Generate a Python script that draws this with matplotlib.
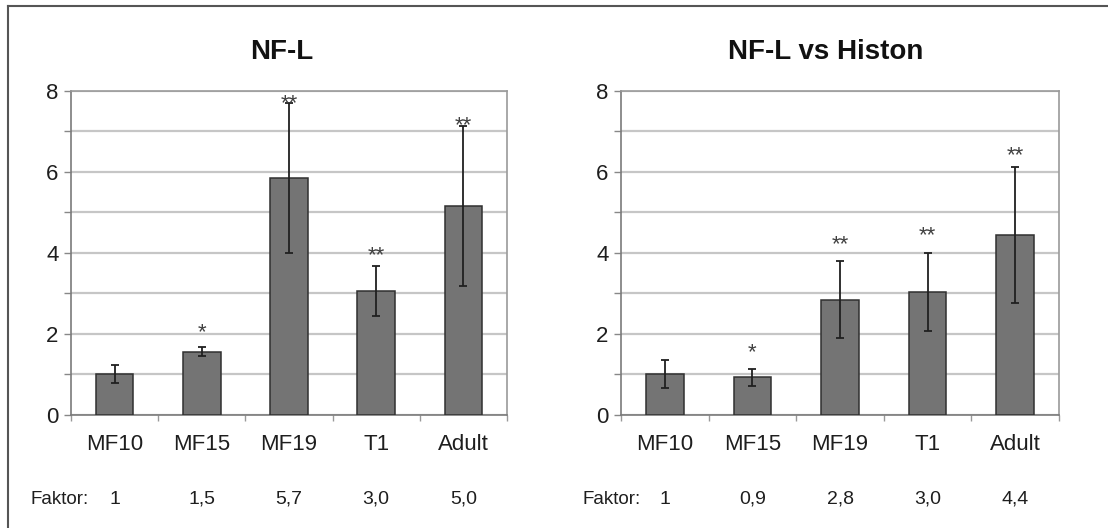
import numpy as np
import matplotlib
matplotlib.use("Agg")
import matplotlib.pyplot as plt
from matplotlib.lines import Line2D

plt.rcParams['font.family'] = ['Liberation Sans', 'DejaVu Sans']

#categories and read-off values
categories=["MF10","MF15","MF19","T1","Adult"]

nfl_mean=[1.01,1.56,5.84,3.06,5.16]
nfl_err=[0.23,0.11,1.85,0.62,1.97]
nfl_stars=["","*","**","**","**"]
nfl_star_y=[0,2.2,7.85,4.1,7.3]
nfl_faktor=["1","1,5","5,7","3,0","5,0"]

hist_mean=[1.01,0.93,2.84,3.03,4.44]
hist_err=[0.35,0.21,0.95,0.96,1.68]
hist_stars=["","*","**","**","**"]
hist_star_y=[0,1.71,4.37,4.6,6.57]
hist_faktor=["1","0,9","2,8","3,0","4,4"]

titles=["NF-L","NF-L vs Histon"]

#styling
barcolor="#747474"
textcolor="#1e1e1e"
gridcolor="#c6c6c6"

W,H=1108,528
fig=plt.figure(figsize=(W/100,H/100),dpi=100)

#axes boxes in pixels (left,right)
boxes=[(71,507),(621,1059)]
top_px,bottom_px=90.7,415
title_x=[282,826]
faktor_x=[30,582]

def drawPanel(ax,mean,err,stars,star_y,faktor):
    x=np.arange(len(categories))
    ax.bar(x,mean,width=0.43,color=barcolor,edgecolor="#303030",linewidth=1.1,zorder=3)
    ax.errorbar(x,mean,yerr=err,fmt="none",ecolor="#202020",elinewidth=1.3,capsize=3,capthick=1.3,zorder=4)
    for i in range(len(x)):
        if stars[i]:
            ax.annotate(stars[i],(x[i],star_y[i]),xytext=(0,-9),textcoords="offset points",
                        ha="center",va="baseline",fontsize=16,color="#404040",zorder=5)
    ax.set_xlim(-0.5,len(x)-0.5)
    ax.set_ylim(0,8)
    ax.set_yticks([0,2,4,6,8])
    ax.set_yticks([1,3,5,7],minor=True)
    ax.set_xticks(x)
    ax.set_xticklabels(categories)
    ax.set_xticks(np.arange(-0.5,len(x),1.0),minor=True)
    ax.tick_params(axis="x",which="major",length=0,pad=14,labelsize=16,labelcolor=textcolor)
    ax.tick_params(axis="x",which="minor",length=4,width=1,color="#999999",direction="out")
    ax.tick_params(axis="y",which="both",length=5,width=1,color="#888888",direction="out")
    ax.tick_params(axis="y",which="major",labelsize=16,labelcolor=textcolor,pad=4)
    ax.yaxis.grid(True,which="both",color=gridcolor,linewidth=1.6,zorder=0)
    ax.set_axisbelow(True)
    for s in ["left","bottom"]:
        ax.spines[s].set_color("#7a7a7a")
        ax.spines[s].set_linewidth(1.2)
    for s in ["top","right"]:
        ax.spines[s].set_color("#9a9a9a")
        ax.spines[s].set_linewidth(1.2)
    trans=matplotlib.transforms.blended_transform_factory(ax.transData,fig.transFigure)
    for i in range(len(x)):
        ax.text(x[i],1-499/H,faktor[i],transform=trans,ha="center",va="center",fontsize=14,color=textcolor)

data=[(nfl_mean,nfl_err,nfl_stars,nfl_star_y,nfl_faktor),
      (hist_mean,hist_err,hist_stars,hist_star_y,hist_faktor)]

for k in range(2):
    l,r=boxes[k]
    ax=fig.add_axes([l/W,1-bottom_px/H,(r-l)/W,(bottom_px-top_px)/H])
    drawPanel(ax,*data[k])
    fig.text(title_x[k]/W,1-52/H,titles[k],ha="center",va="center",fontsize=20,fontweight="bold",color="#111111")
    fig.text(faktor_x[k]/W,1-499/H,"Faktor:",ha="left",va="center",fontsize=13.5,color=textcolor)

#outer frame (top and left edge only visible)
fig.add_artist(Line2D([8/W,1],[1-6/H,1-6/H],transform=fig.transFigure,color="#555555",linewidth=1.5))
fig.add_artist(Line2D([8/W,8/W],[0,1-6/H],transform=fig.transFigure,color="#555555",linewidth=1.5))

fig.savefig("out.png",dpi=100)
